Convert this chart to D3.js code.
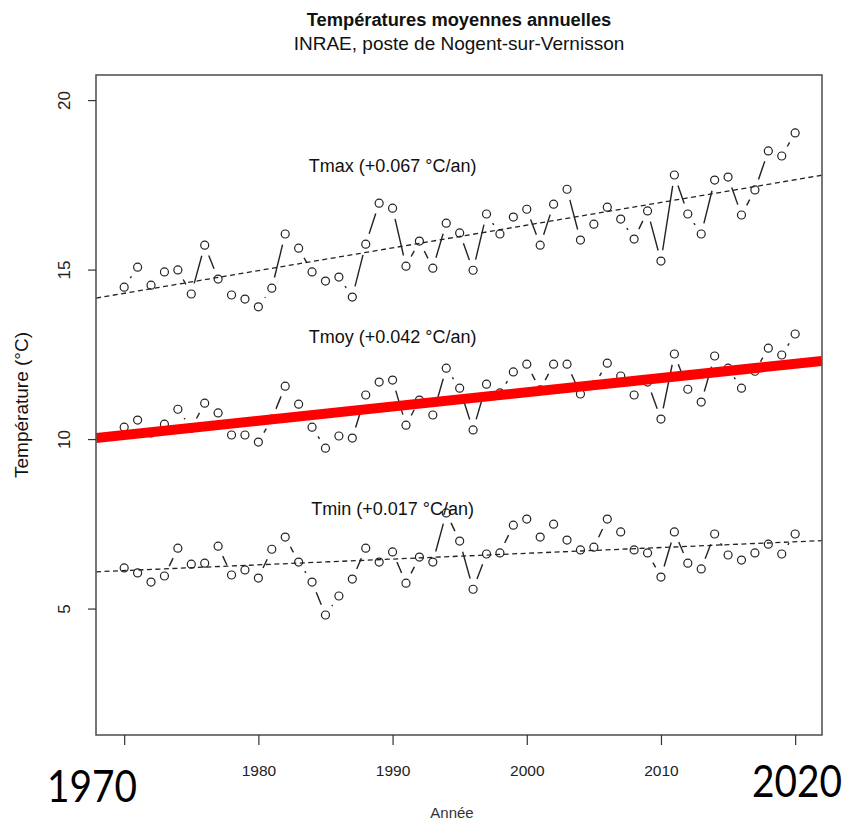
<!DOCTYPE html>
<html>
<head>
<meta charset="utf-8">
<script src="https://cdn.jsdelivr.net/npm/d3@7"></script>
<style>
  body { margin: 0; background: #fff; }
  svg { display: block; font-family: "Liberation Sans", Arial, sans-serif; }
</style>
</head>
<body>
<div id="chart"></div>
<script>
/*************
Data
**************/
var years = d3.range(1970, 2021);

var tmax = [14.48, 15.07, 14.54, 14.93, 14.99, 14.28, 15.72, 14.72, 14.25, 14.13,
            13.90, 14.45, 16.05, 15.63, 14.93, 14.66, 14.78, 14.19, 15.75, 16.96,
            16.81, 15.10, 15.84, 15.04, 16.37, 16.08, 14.98, 16.64, 16.05, 16.55,
            16.78, 15.72, 16.93, 17.37, 15.87, 16.34, 16.84, 16.49, 15.90, 16.73,
            15.25, 17.79, 16.64, 16.05, 17.64, 17.73, 16.61, 17.35, 18.50, 18.35,
            19.03];

var tmoy = [10.35, 10.56, 10.18, 10.44, 10.88, 10.32, 11.06, 10.77, 10.12, 10.12,
            9.91, 10.59, 11.56, 11.03, 10.35, 9.73, 10.09, 10.03, 11.30, 11.68,
            11.74, 10.41, 11.15, 10.71, 12.09, 11.50, 10.27, 11.62, 11.36, 11.98,
            12.21, 11.45, 12.21, 12.21, 11.33, 11.59, 12.24, 11.86, 11.30, 11.68,
            10.59, 12.51, 11.47, 11.09, 12.45, 12.09, 11.50, 12.00, 12.68, 12.48,
            13.10];

var tmin = [6.20, 6.05, 5.78, 5.96, 6.78, 6.31, 6.34, 6.84, 5.99, 6.14,
            5.90, 6.75, 7.11, 6.37, 5.78, 4.81, 5.37, 5.87, 6.78, 6.37,
            6.67, 5.75, 6.52, 6.37, 7.82, 6.99, 5.57, 6.61, 6.64, 7.46,
            7.64, 7.11, 7.49, 7.02, 6.73, 6.81, 7.64, 7.26, 6.73, 6.64,
            5.93, 7.26, 6.34, 6.17, 7.20, 6.58, 6.43, 6.64, 6.90, 6.61,
            7.20];

// linear trends: value in 1970 and slope (°C/an)
var trendNames = ["Tmax", "Tmoy", "Tmin"];
var trendAt1970 = [14.30, 10.12, 6.12];
var trendSlope = [0.067, 0.042, 0.017];
var labelTemp = [18.05, 13.0, 7.95];

var xTicks = [1970, 1980, 1990, 2000, 2010, 2020];
var yTicks = [5, 10, 15, 20];

/*************
Params
**************/
var width = 848, height = 821;
var margin = {top: 75, right: 26, bottom: 86, left: 96};
var gap = 11;

const svg = d3.select("#chart")
  .append("svg")
  .attr("width", width)
  .attr("height", height);

const x = d3.scaleLinear().domain([1967.9, 2022.0]).range([margin.left, width - margin.right]);
const y = d3.scaleLinear().domain([1.27, 20.74]).range([height - margin.bottom, margin.top]);

svg.append("clipPath").attr("id", "clip")
  .append("rect")
  .attr("x", margin.left).attr("y", margin.top)
  .attr("width", width - margin.left - margin.right)
  .attr("height", height - margin.top - margin.bottom);

/*************
Series (type "b": points + broken segments)
**************/
var series = [tmax, tmoy, tmin];

series.forEach(function (vals) {
  var pts = vals.map((v, i) => [x(years[i]), y(v)]);
  var segs = [];
  for (var i = 0; i < pts.length - 1; i++) {
    var dx = pts[i + 1][0] - pts[i][0], dy = pts[i + 1][1] - pts[i][1];
    var L = Math.sqrt(dx * dx + dy * dy);
    if (L > 2 * gap + 0.5) {
      segs.push([pts[i][0] + dx / L * gap, pts[i][1] + dy / L * gap,
                 pts[i + 1][0] - dx / L * gap, pts[i + 1][1] - dy / L * gap]);
    }
  }
  svg.append("g").selectAll("line")
    .data(segs)
    .enter().append("line")
    .attr("x1", d => d[0]).attr("y1", d => d[1])
    .attr("x2", d => d[2]).attr("y2", d => d[3])
    .attr("stroke", "#222")
    .attr("stroke-width", 1.4);

  svg.append("g").selectAll("circle")
    .data(vals)
    .enter().append("circle")
    .attr("cx", (_, i) => x(years[i]))
    .attr("cy", d => y(d))
    .attr("r", 4)
    .attr("fill", "none")
    .attr("stroke", "#222")
    .attr("stroke-width", 1.2);
});

/*************
Trend lines
**************/
var xd = x.domain();
svg.append("g").attr("clip-path", "url(#clip)")
  .selectAll("line")
  .data(trendNames)
  .enter().append("line")
  .attr("x1", x(xd[0]))
  .attr("x2", x(xd[1]))
  .attr("y1", (_, i) => y(trendAt1970[i] + trendSlope[i] * (xd[0] - 1970)))
  .attr("y2", (_, i) => y(trendAt1970[i] + trendSlope[i] * (xd[1] - 1970)))
  .attr("stroke", (d) => d === "Tmoy" ? "#ff0000" : "#222")
  .attr("stroke-width", (d) => d === "Tmoy" ? 10 : 1.3)
  .attr("stroke-dasharray", (d) => d === "Tmoy" ? null : "5,3.5");

svg.append("g").selectAll("text")
  .data(trendNames)
  .enter().append("text")
  .attr("x", x(1990))
  .attr("y", (_, i) => y(labelTemp[i]))
  .attr("text-anchor", "middle")
  .attr("dominant-baseline", "central")
  .attr("font-size", 18)
  .attr("fill", "#111")
  .text((d, i) => d + " (+" + trendSlope[i].toFixed(3) + " °C/an)");

/*************
Box and axes
**************/
svg.append("rect")
  .attr("x", margin.left).attr("y", margin.top)
  .attr("width", width - margin.left - margin.right)
  .attr("height", height - margin.top - margin.bottom)
  .attr("fill", "none")
  .attr("stroke", "#555")
  .attr("stroke-width", 1.6);

const yAxis = svg.append("g")
  .attr("transform", "translate(" + margin.left + ",0)")
  .call(d3.axisLeft(y).tickValues(yTicks).tickSize(8).tickFormat(d3.format("d")));
yAxis.select(".domain").remove();
yAxis.selectAll(".tick line").attr("stroke", "#333").attr("stroke-width", 1.2);
yAxis.selectAll(".tick text")
  .attr("transform", "rotate(-90)")
  .attr("x", 0).attr("y", -26).attr("dy", 0)
  .attr("text-anchor", "middle")
  .attr("font-size", 17)
  .attr("font-family", "Liberation Sans, Arial, sans-serif")
  .attr("fill", "#222");

const xAxis = svg.append("g")
  .attr("transform", "translate(0," + (height - margin.bottom) + ")")
  .call(d3.axisBottom(x).tickValues(xTicks).tickSize(10).tickPadding(20)
    .tickFormat(d => (d === 1970 || d === 2020) ? "" : d));
xAxis.select(".domain").remove();
xAxis.selectAll(".tick line").attr("stroke", "#333").attr("stroke-width", 1.2);
xAxis.selectAll(".tick text")
  .attr("font-size", 15.5)
  .attr("font-family", "Liberation Sans, Arial, sans-serif")
  .attr("fill", "#222");

/*************
Titles
**************/
svg.append("text")
  .attr("x", (margin.left + width - margin.right) / 2).attr("y", 26)
  .attr("text-anchor", "middle")
  .attr("font-size", 18.3).attr("font-weight", "bold").attr("fill", "#111")
  .text("Températures moyennes annuelles");

svg.append("text")
  .attr("x", (margin.left + width - margin.right) / 2).attr("y", 50)
  .attr("text-anchor", "middle")
  .attr("font-size", 19).attr("fill", "#111")
  .text("INRAE, poste de Nogent-sur-Vernisson");

svg.append("text")
  .attr("transform", "translate(28," + 405 + ") rotate(-90)")
  .attr("text-anchor", "middle")
  .attr("font-size", 19).attr("fill", "#111")
  .text("Température (°C)");

svg.append("text")
  .attr("x", 452).attr("y", 818)
  .attr("text-anchor", "middle")
  .attr("font-size", 15).attr("fill", "#333")
  .text("Année");

// big year labels at the ends of the axis
svg.append("text")
  .attr("x", 92).attr("y", 802)
  .attr("text-anchor", "middle")
  .attr("font-family", "Lato, 'Open Sans', sans-serif")
  .attr("font-size", 44).attr("fill", "#000")
  .attr("textLength", 90).attr("lengthAdjust", "spacingAndGlyphs")
  .text("1970");

svg.append("text")
  .attr("x", 797).attr("y", 797)
  .attr("text-anchor", "middle")
  .attr("font-family", "Lato, 'Open Sans', sans-serif")
  .attr("font-size", 44).attr("fill", "#000")
  .attr("textLength", 90).attr("lengthAdjust", "spacingAndGlyphs")
  .text("2020");
</script>
</body>
</html>
